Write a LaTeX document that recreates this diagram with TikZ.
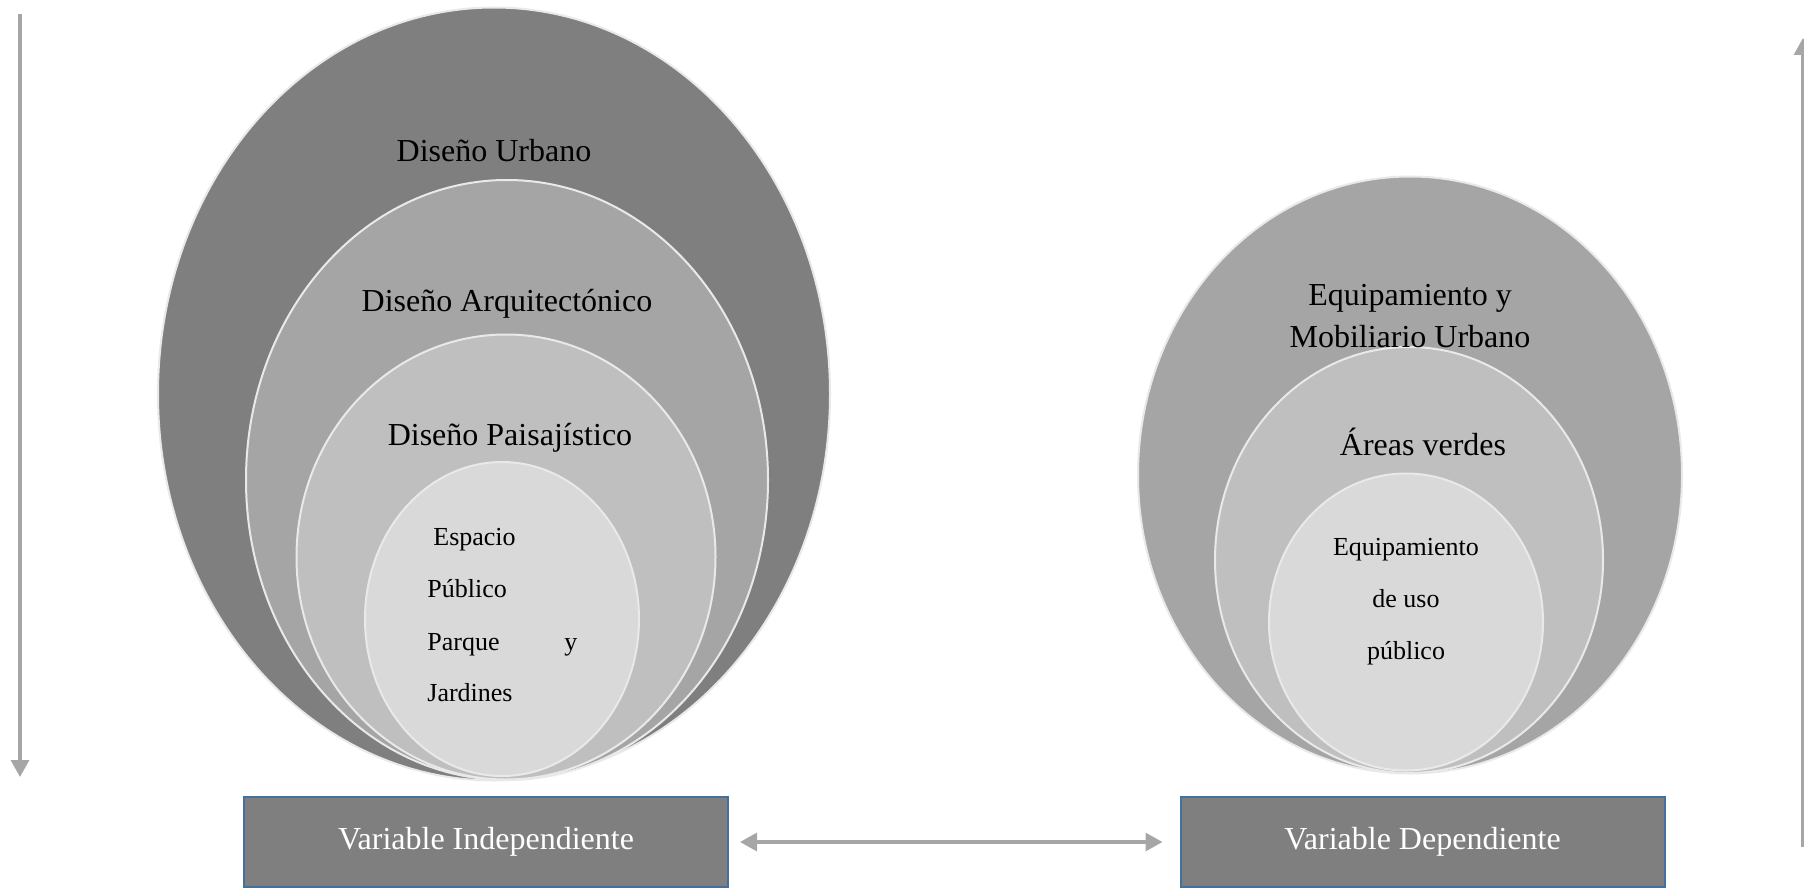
\documentclass[tikz,border=0pt]{standalone}
\usepackage{fontspec}
\setmainfont{Liberation Serif}
\usetikzlibrary{shapes.geometric,arrows.meta}
\definecolor{grisA}{HTML}{7F7F7F}
\definecolor{grisB}{HTML}{A5A5A5}
\definecolor{grisC}{HTML}{BFBFBF}
\definecolor{grisD}{HTML}{D9D9D9}
\definecolor{borde}{HTML}{E9E9E9}
\definecolor{azul}{HTML}{41719C}
\definecolor{flecha}{HTML}{A6A6A6}
\tikzset{
    capa/.style={ellipse, draw=borde, line width=1pt, inner sep=0pt, outer sep=0pt},
    rotulo/.style={font=\fontsize{16}{21}\selectfont, inner sep=0pt, align=center},
    chico/.style={font=\fontsize{13}{26}\selectfont, inner sep=0pt, text height=0.68em, text depth=0.22em},
    caja/.style={draw=azul, line width=1pt, fill=grisA, text=white, minimum width=242pt, minimum height=45pt, inner sep=0pt, outer sep=0pt, font=\fontsize{16}{20}\selectfont},
    punta/.tip={Triangle[length=8.5pt,width=9pt]},
    flechita/.style={draw=flecha, line width=1.6pt, -punta}
}
\begin{document}
\begin{tikzpicture}[x=0.5pt,y=-0.5pt]
        \useasboundingbox (0,0) rectangle (1804,888);
        \node[capa, fill=grisA, minimum width=336pt, minimum height=386.5pt] (urb) at (494,394) {};
        \node[capa, fill=grisB, minimum width=261pt, minimum height=300pt] (arq) at (507,480) {};
        \node[capa, fill=grisC, minimum width=209.5pt, minimum height=222.5pt] (pai) at (506,557) {};
        \node[capa, fill=grisD, minimum width=137pt, minimum height=157pt] (esp) at (502,619) {};
        \node[rotulo] (turb) at (494,151) {Diseño Urbano};
        \node[rotulo] (tarq) at (507,304) {Diseño Arquitectónico};
        \node[rotulo] (tpai) at (510,438) {Diseño Paisajístico};
        \node[chico, anchor=west] (tesp1) at (433,541) {Espacio};
        \node[chico, anchor=west] (tesp2) at (427,593) {Público};
        \node[chico, anchor=west, text width=75pt] (tesp3) at (427,646) {Parque\hfill y};
        \node[chico, anchor=west] (tesp4) at (427,697) {Jardines};
        \node[capa, fill=grisB, minimum width=272pt, minimum height=298.5pt] (equ) at (1410,475) {};
        \node[capa, fill=grisC, minimum width=194pt, minimum height=213pt] (are) at (1409,560) {};
        \node[capa, fill=grisD, minimum width=137pt, minimum height=148.5pt] (pub) at (1406,622) {};
        \node[rotulo] (tequ) at (1410,316) {Equipamiento y\\Mobiliario Urbano};
        \node[rotulo] (tare) at (1423,442) {Áreas verdes};
        \node[chico] (tpub1) at (1406,551) {Equipamiento};
        \node[chico] (tpub2) at (1406,603) {de uso};
        \node[chico] (tpub3) at (1406,655) {público};
        \node[caja] (vi) at (486,842) {Variable Independiente};
        \node[caja] (vd) at (1422.5,842) {Variable Dependiente};
        \draw[flechita, punta-punta, shorten <=6pt, shorten >=9pt] (vi) -- (vd);
        \coordinate (izq1) at (20,14);
        \coordinate (izq2) at (20,777);
        \coordinate (der1) at (1803,847);
        \coordinate (der2) at (1803,38);
        \draw[flechita] (izq1) -- (izq2);
        \draw[flechita] (der1) -- (der2);
\end{tikzpicture}
\end{document}
